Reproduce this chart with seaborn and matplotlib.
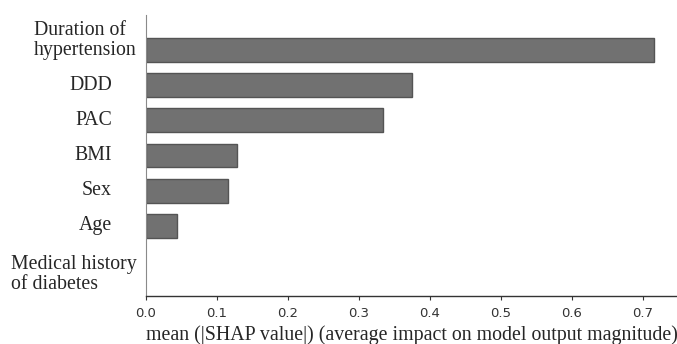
import numpy as np
import pandas as pd
from matplotlib import pyplot as plt
from matplotlib import transforms
import seaborn as sns

# feature names (top to bottom) and mean |SHAP| values
features = ["Duration of\nhypertension", "DDD", "PAC", "BMI", "Sex", "Age",
            "Medical history\nof diabetes"]
shap_vals = [0.715, 0.375, 0.334, 0.128, 0.115, 0.044, 0.0]
x_ticks = [0.0, 0.1, 0.2, 0.3, 0.4, 0.5, 0.6, 0.7]

df = pd.DataFrame({"feature": features, "value": shap_vals})

sns.set_style("white")
plt.rcParams['font.family'] = ['DejaVu Sans']

fig = plt.figure(figsize=(6.77, 3.44), dpi=100)
ax = fig.add_axes([146 / 677, 48 / 344, 531 / 677, 281 / 344])

sns.barplot(data=df, x="value", y="feature", orient="h", color="#717171",
            saturation=1, width=0.68, edgecolor="#545454", linewidth=1.0, ax=ax)
# no outline on empty bars
for p in ax.patches:
    if p.get_width() == 0:
        p.set_linewidth(0)

ax.set_xlim(0, 0.748)
ax.set_ylim(len(features), -1)
ax.set_xticks(x_ticks)
ax.set_xticklabels(["{:.1f}".format(t) for t in x_ticks], fontsize=9.5, color="#333333")
ax.tick_params(axis="x", length=3, width=0.8, color="#333333", pad=5, bottom=True)
ax.set_yticks([])
ax.set_ylabel("")
ax.set_xlabel("mean (|SHAP value|) (average impact on model output magnitude)",
              family="Liberation Serif", fontsize=14.3, labelpad=4)

# feature labels (the two-line ones sit a bit off their bars in the original)
for i, name in enumerate(features):
    multi = "\n" in name
    xpos = -0.017 if multi else -0.064
    dy = 0
    if i == 0:
        dy = 7
    elif i == len(features) - 1:
        dy = -10
    tr = transforms.offset_copy(ax.get_yaxis_transform(), fig=fig, x=0, y=dy, units="points")
    ax.text(xpos, i, name, transform=tr, ha="right",
            va="center", multialignment="left", family="Liberation Serif",
            fontsize=14.3, linespacing=1.1)

sns.despine(ax=ax, top=True, right=True)
ax.spines["left"].set_color("#8a8a8a")
ax.spines["left"].set_linewidth(0.8)
ax.spines["bottom"].set_color("#333333")
ax.spines["bottom"].set_linewidth(1.0)

plt.savefig("out.png", dpi=100)
